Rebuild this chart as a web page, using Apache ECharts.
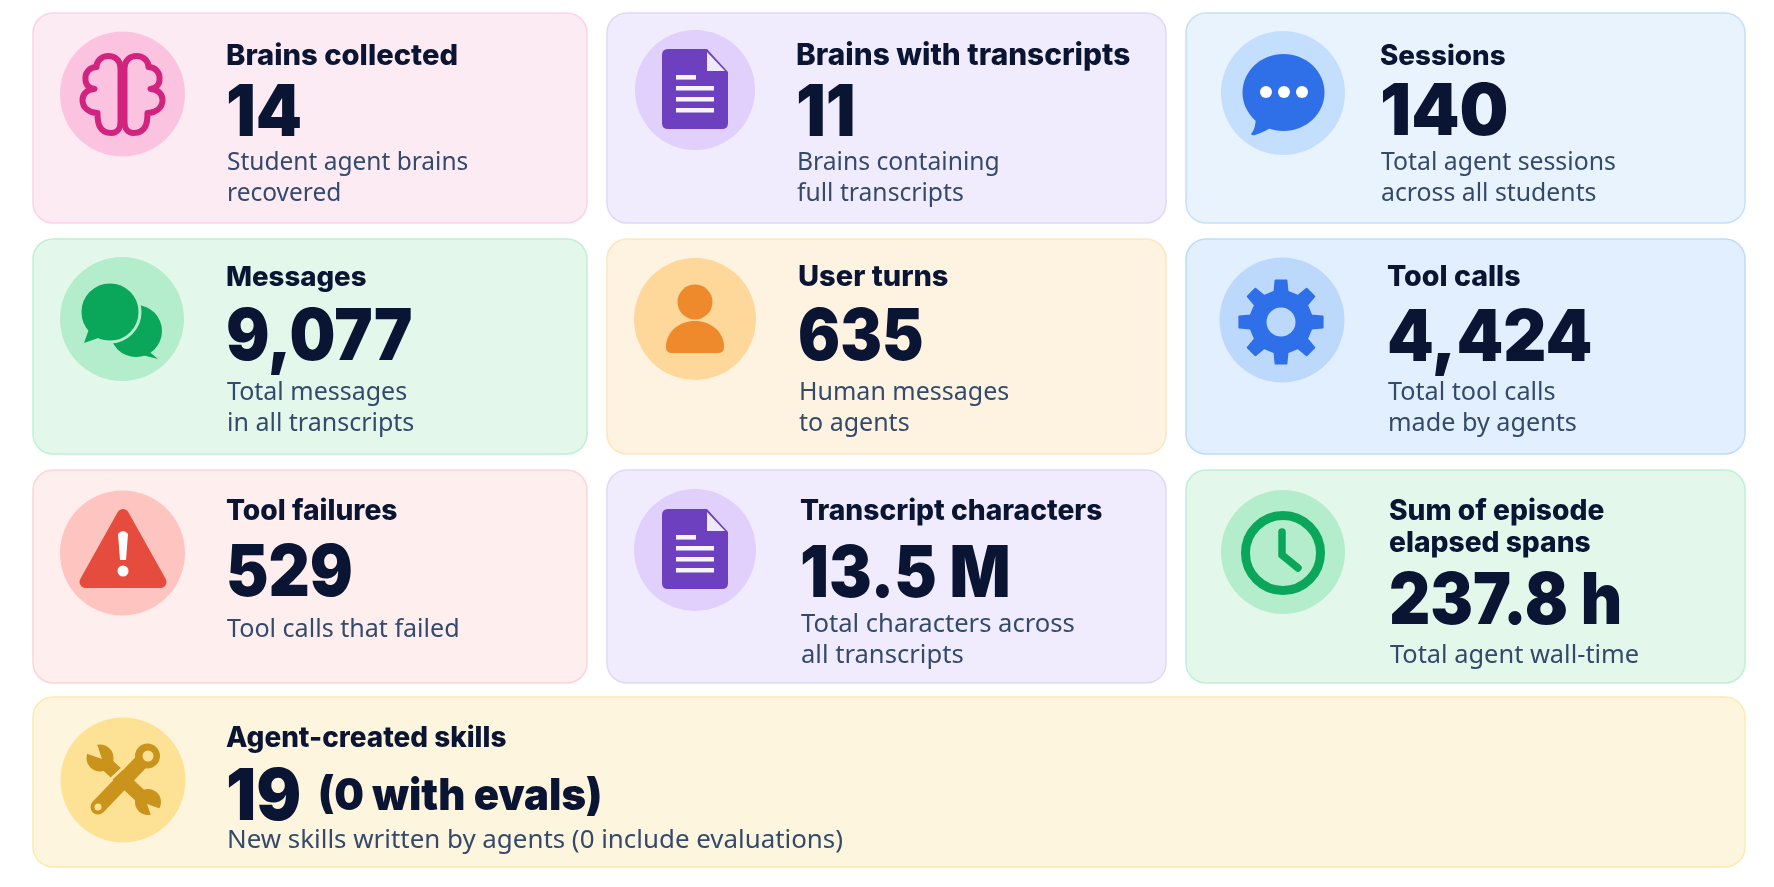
<!DOCTYPE html>
<html>
<head>
<meta charset="utf-8">
<title>Agent brains summary</title>
<style>
html, body { margin: 0; padding: 0; background: #fff; }
#main { width: 1774px; height: 887px; }
</style>
<script src="https://cdn.jsdelivr.net/npm/echarts@6/dist/echarts.min.js"></script>
</head>
<body>
<div id="main"></div>
<script>
// values
const titles = [
    ['Brains collected'], ['Brains with transcripts'], ['Sessions'],
    ['Messages'], ['User turns'], ['Tool calls'],
    ['Tool failures'], ['Transcript characters'], ['Sum of episode', 'elapsed spans'],
    ['Agent-created skills']
];
const values = ['14', '11', '140', '9,077', '635', '4,424', '529', '13.5 M', '237.8 h', '19'];
const valueNotes = ['', '', '', '', '', '', '', '', '', '(0 with evals)'];
const captions = [
    ['Student agent brains', 'recovered'],
    ['Brains containing', 'full transcripts'],
    ['Total agent sessions', 'across all students'],
    ['Total messages', 'in all transcripts'],
    ['Human messages', 'to agents'],
    ['Total tool calls', 'made by agents'],
    ['Tool calls that failed'],
    ['Total characters across', 'all transcripts'],
    ['Total agent wall-time'],
    ['New skills written by agents (0 include evaluations)']
];

// theme colours: card fill, card border, icon disc, icon
const themes = {
    pink: ['#fdebf4', '#fbd3e8', '#fcc3e0', '#d2247f'],
    purple: ['#f1ecfd', '#e0d8fb', '#e0d0fb', '#6c40bf'],
    sky: ['#e9f3fe', '#c5e0fb', '#c4defd', '#2f6fe8'],
    green: ['#e3f7eb', '#bff0d6', '#b4edcb', '#0aa65a'],
    orange: ['#fef3e1', '#fde6bd', '#fed79b', '#ee8a2b'],
    blue: ['#e2effe', '#bfdcfb', '#bcd9fc', '#2f6fe8'],
    red: ['#feeeee', '#fcd5da', '#fec4c0', '#e64c3e'],
    yellow: ['#fef5de', '#fdeab0', '#fde296', '#c9931c']
};
const cardThemes = ['pink', 'purple', 'sky', 'green', 'orange', 'blue', 'red', 'purple', 'green', 'yellow'];
const cardIcons = ['brain', 'doc', 'bubble', 'chat', 'person', 'gear', 'warning', 'doc', 'clock', 'tools'];

// layout: x0, y0, x1, y1 of each card, then disc centre and radius
const cardBoxes = [
    [33, 13, 587, 223], [607, 13, 1166, 223], [1186, 13, 1745, 223],
    [33, 239, 587, 454], [607, 239, 1166, 454], [1186, 239, 1745, 454],
    [33, 470, 587, 683], [607, 470, 1166, 683], [1186, 470, 1745, 683],
    [33, 697, 1745, 867]
];
const discs = [
    [122.5, 94, 62.5], [695, 90, 60], [1283, 93, 62],
    [122, 319, 62], [695, 319, 61], [1282, 320, 62.5],
    [122.5, 553, 62.5], [695, 550, 61], [1283, 552, 62],
    [123, 780, 62.5]
];
// text x, title baseline, value baseline, caption baseline
const textSpots = [
    [226, 66, 138, 171], [796, 66, 138, 171], [1380, 66, 137, 171],
    [226, 287, 362, 401], [798, 287, 362, 401], [1387, 287, 363, 401],
    [226, 521, 598, 638], [800, 521, 599, 633], [1389, 521, 626, 664],
    [226, 748, 822, 849]
];
// title size and value squeeze, card by card
const titleSizes = [29.2, 29.8, 27.8, 27.6, 29, 28.6, 28.2, 28.2, 28.2, 27.9];
const valueSqueeze = [0.93, 0.93, 0.97, 0.91, 0.88, 0.94, 0.9, 0.9, 0.9, 0.94];
const captionSizes = [24.5, 24.7, 24.8, 25, 25, 25.2, 25.1, 25.6, 25.4, 25.9];
const titleLeading = 32;
const captionLeading = 31;

const DARK = '#0a1433';
const SLATE = '#334a6c';

function gearPath(outer, root, teeth) {
    const step = Math.PI * 2 / teeth;
    let d = '';
    for (let i = 0; i < teeth; i++) {
        const a = i * step - Math.PI / 2;
        const pts = [[root, -0.21], [outer, -0.13], [outer, 0.13], [root, 0.21], [root, step - 0.21]];
        pts.forEach((p, j) => {
            const x = (p[0] * Math.cos(a + p[1])).toFixed(1);
            const y = (p[0] * Math.sin(a + p[1])).toFixed(1);
            d += (i === 0 && j === 0 ? 'M' : 'L') + x + ' ' + y + ' ';
        });
    }
    return d + 'Z';
}

const brainHalf = 'M-2 -26 C-2 -34 -8 -38 -14 -38 C-21 -38 -26 -33 -26 -27 C-33 -27 -38 -21 -37 -14 C-37 -9 -33 -6 -28 -5 '
    + 'C-36 -5 -40 1 -40 6 C-40 14 -33 19 -25 19 C-25 28 -24 39 -11 39 C-5 39 -2 34 -2 28 Z';

// icons are drawn around (0, 0), the centre of the disc
const iconMakers = {
    brain: (c, bg) => [
        { type: 'path', shape: { pathData: brainHalf }, style: { fill: 'none', stroke: c, lineWidth: 6, lineJoin: 'round' } },
        { type: 'path', scaleX: -1, shape: { pathData: brainHalf }, style: { fill: 'none', stroke: c, lineWidth: 6, lineJoin: 'round' } }
    ],
    doc: (c, bg) => {
        const bars = [[-19, -15, 20], [-19, -4, 38], [-19, 7, 38], [-19, 18, 38]];
        return [
            { type: 'path', shape: { pathData: 'M-27 -41 L12 -41 L33 -18 L33 33 Q33 39 27 39 L-27 39 Q-33 39 -33 33 L-33 -35 Q-33 -41 -27 -41 Z' }, style: { fill: c } },
            { type: 'polygon', shape: { points: [[12, -38], [30, -19], [12, -19]] }, style: { fill: '#efe9fd' } }
        ].concat(bars.map(b => ({
            type: 'rect', shape: { x: b[0], y: b[1], width: b[2], height: 4.6 }, style: { fill: '#f7f3ff' }
        })));
    },
    bubble: (c, bg) => [
        { type: 'ellipse', shape: { cx: 0.5, cy: -0.5, rx: 41, ry: 38.5 }, style: { fill: c } },
        { type: 'path', shape: { pathData: 'M-27 22 Q-27 36 -32 41 Q-31 43 -28 42 Q-18 39 -10 33 Z' }, style: { fill: c } },
        { type: 'circle', shape: { cx: -17, cy: -1, r: 6 }, style: { fill: '#fff' } },
        { type: 'circle', shape: { cx: 1, cy: -1, r: 6 }, style: { fill: '#fff' } },
        { type: 'circle', shape: { cx: 19, cy: -1, r: 6 }, style: { fill: '#fff' } }
    ],
    chat: (c, bg) => [
        { type: 'circle', shape: { cx: 14, cy: 12, r: 26 }, style: { fill: c } },
        { type: 'polygon', shape: { points: [[24, 30], [36, 40], [20, 36]] }, style: { fill: c } },
        { type: 'circle', shape: { cx: -12, cy: -7, r: 30 }, style: { fill: c, stroke: bg, lineWidth: 3 } },
        { type: 'polygon', shape: { points: [[-33, 10], [-38, 24], [-18, 17]] }, style: { fill: c } }
    ],
    person: (c, bg) => [
        { type: 'circle', shape: { cx: 0, cy: -17, r: 17.5 }, style: { fill: c } },
        { type: 'path', shape: { pathData: 'M-29 28 C-29 12 -15 2 0 2 C15 2 29 12 29 28 Q29 34 23 34 L-23 34 Q-29 34 -29 28 Z' }, style: { fill: c } }
    ],
    gear: (c, bg) => [
        { type: 'path', x: -1, y: 2, shape: { pathData: gearPath(42, 31, 8) }, style: { fill: c, stroke: c, lineWidth: 2, lineJoin: 'round' } },
        { type: 'circle', shape: { cx: -1, cy: 2, r: 14.5 }, style: { fill: bg } }
    ],
    warning: (c, bg) => [
        { type: 'polygon', shape: { points: [[0.5, -38], [38, 29], [-37, 29]] }, style: { fill: c, stroke: c, lineWidth: 12, lineJoin: 'round' } },
        { type: 'path', shape: { pathData: 'M-4.5 -19 Q0.5 -25 5.5 -19 L3.5 7 L-2.5 7 Z' }, style: { fill: '#fff' } },
        { type: 'circle', shape: { cx: 0.5, cy: 18, r: 5.5 }, style: { fill: '#fff' } }
    ],
    clock: (c, bg) => [
        { type: 'circle', shape: { cx: 0, cy: 1, r: 37.5 }, style: { fill: 'none', stroke: c, lineWidth: 9 } },
        { type: 'path', shape: { pathData: 'M-1 -20 L-1 3 L15 16' }, style: { fill: 'none', stroke: c, lineWidth: 7.5, lineCap: 'round' } }
    ],
    tools: (c, bg) => [
        // open spanner, top left to bottom right
        { type: 'line', shape: { x1: -22, y1: -21, x2: 24, y2: 22 }, style: { stroke: c, lineWidth: 14 } },
        { type: 'circle', shape: { cx: -23, cy: -22, r: 13.5 }, style: { fill: c } },
        { type: 'polygon', shape: { points: [[-21, -21], [-44, -29], [-29, -45]] }, style: { fill: bg } },
        { type: 'circle', shape: { cx: 25, cy: 22, r: 13 }, style: { fill: c } },
        { type: 'polygon', shape: { points: [[24, 24], [44, 31], [31, 44]] }, style: { fill: bg } },
        { type: 'line', shape: { x1: -13, y1: 0, x2: 1, y2: -13 }, style: { stroke: bg, lineWidth: 3 } },
        // ring spanner, top right to bottom left
        { type: 'line', shape: { x1: 24, y1: -24, x2: -25, y2: 27 }, style: { stroke: c, lineWidth: 15, lineCap: 'round' } },
        { type: 'circle', shape: { cx: 24.5, cy: -24, r: 12.5 }, style: { fill: c } },
        { type: 'circle', shape: { cx: 25, cy: -24, r: 5.5 }, style: { fill: bg } },
        { type: 'circle', shape: { cx: -25, cy: 27, r: 3.5 }, style: { fill: bg } }
    ]
};

const TITLE_FONT = { fontFamily: 'Inter', fontWeight: 800, fill: DARK };
const VALUE_FONT = { fontFamily: 'Inter', fontWeight: 900, fontSize: 71, fill: DARK };
const NOTE_FONT = { fontFamily: 'Inter', fontWeight: 900, fontSize: 44, fill: DARK };
const CAPTION_FONT = { fontFamily: 'Noto Sans', fontWeight: 400, fill: SLATE };

// place text by its baseline
function textEl(str, x, base, font, size, squeeze) {
    const fontSize = size || font.fontSize;
    return {
        type: 'text',
        x: x,
        y: base - fontSize * 0.33,
        scaleX: squeeze || 1,
        style: Object.assign({ text: str, align: 'left', verticalAlign: 'middle' }, font, { fontSize: fontSize })
    };
}

function renderCard(params) {
    const i = params.dataIndex;
    const box = cardBoxes[i];
    const theme = themes[cardThemes[i]];
    const disc = discs[i];
    const spot = textSpots[i];

    const children = [
        {
            type: 'rect',
            shape: { x: box[0], y: box[1], width: box[2] - box[0], height: box[3] - box[1], r: 20 },
            style: { fill: theme[0], stroke: theme[1], lineWidth: 1.5 }
        },
        { type: 'circle', shape: { cx: disc[0], cy: disc[1], r: disc[2] }, style: { fill: theme[2] } },
        { type: 'group', x: disc[0], y: disc[1], children: iconMakers[cardIcons[i]](theme[3], theme[2]) }
    ];
    titles[i].forEach((line, k) => {
        children.push(textEl(line, spot[0], spot[1] + k * titleLeading, TITLE_FONT, titleSizes[i]));
    });
    children.push(textEl(values[i], spot[0], spot[2], VALUE_FONT, null, valueSqueeze[i]));
    if (valueNotes[i]) {
        children.push(textEl(valueNotes[i], 318, spot[2] - 11, NOTE_FONT, null, 0.95));
    }
    captions[i].forEach((line, k) => {
        children.push(textEl(line, spot[0] + 1, spot[3] + k * captionLeading, CAPTION_FONT, captionSizes[i]));
    });
    return { type: 'group', children: children };
}

const myChart = echarts.init(document.getElementById('main'));

myChart.setOption({
    animation: false,
    backgroundColor: '#ffffff',
    series: [{
        type: 'custom',
        coordinateSystem: 'none',
        silent: true,
        renderItem: renderCard,
        data: values.map((v, i) => [i])
    }]
});
</script>
</body>
</html>
